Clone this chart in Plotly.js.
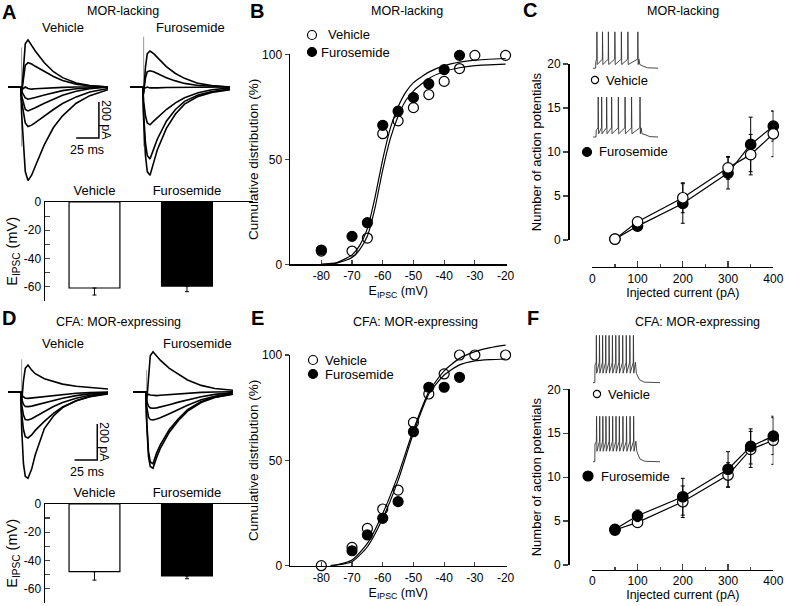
<!DOCTYPE html>
<html>
<head>
<meta charset="utf-8">
<script src="https://cdn.plot.ly/plotly-3.0.1.min.js"></script>
<style>
    body { margin: 0; background: #fff; }
    #chart { width: 785px; height: 606px; }
</style>
</head>
<body>
<div id="chart"></div>
<script>
// ---------- data ----------

// IPSC traces (pA) sampled at these times (ms)
const ipscTime = [0, 14, 15, 17, 19, 22, 26, 30, 40, 50, 60, 75, 90, 110];

const aVehTraces = [
    [0, 0, -40, 120, 240, 262, 230, 200, 135, 85, 52, 22, 8, 0],
    [0, 0, -30, 60, 120, 135, 128, 115, 85, 58, 36, 16, 6, 0],
    [0, 0, -15, -5, 0, -8, -12, -10, -6, -4, -2, 0, 0, 0],
    [0, 0, -25, -45, -60, -68, -64, -58, -45, -32, -20, -10, -4, 0],
    [0, 0, -50, -95, -125, -133, -126, -115, -90, -66, -46, -24, -10, 0],
    [0, 0, -80, -150, -200, -220, -212, -198, -160, -125, -92, -55, -28, -8],
    [0, 0, -150, -330, -470, -520, -490, -440, -320, -225, -160, -90, -48, -15]
];
const aFurTraces = [
    [0, 0, -40, 110, 185, 200, 185, 165, 113, 75, 48, 20, 8, 0],
    [0, 0, -30, 50, 85, 90, 85, 75, 52, 34, 20, 8, 3, 0],
    [0, 0, -10, -5, 0, -5, -6, -5, -3, -2, -1, 0, 0, 0],
    [0, 0, -80, -160, -200, -210, -190, -170, -125, -88, -60, -32, -15, -5],
    [0, 0, -150, -310, -380, -400, -345, -290, -190, -125, -80, -44, -25, -12],
    [0, 0, -180, -380, -470, -490, -420, -350, -230, -150, -95, -52, -30, -15]
];
const dVehTraces = [
    [0, 0, -60, 60, 130, 148, 120, 100, 72, 55, 42, 30, 22, 15],
    [0, 0, -20, -30, -36, -37, -35, -32, -26, -20, -15, -9, -5, -2],
    [0, 0, -40, -70, -82, -83, -80, -75, -62, -48, -36, -22, -12, -5],
    [0, 0, -70, -130, -155, -157, -150, -138, -110, -82, -60, -36, -20, -8],
    [0, 0, -120, -210, -250, -257, -240, -215, -165, -120, -85, -50, -27, -10],
    [0, 0, -200, -400, -470, -481, -430, -350, -205, -135, -88, -50, -28, -12]
];
const dFurTraces = [
    [0, 0, -60, 100, 200, 222, 200, 175, 130, 95, 65, 35, 18, 8],
    [0, 0, -20, -15, -18, -20, -22, -20, -16, -12, -8, -4, -2, 0],
    [0, 0, -50, -80, -90, -92, -90, -86, -72, -58, -45, -28, -15, -5],
    [0, 0, -80, -140, -155, -157, -152, -145, -122, -98, -75, -45, -25, -8],
    [0, 0, -150, -330, -390, -400, -340, -295, -210, -150, -100, -55, -30, -12],
    [0, 0, -170, -360, -415, -425, -365, -315, -225, -160, -108, -60, -32, -14]
];
// stimulus artifact extent (pA) for each trace group
const stimTime = [15, 15];
const aVehArtifact = [220, -330];
const aFurArtifact = [280, -330];
const dVehArtifact = [180, -250];
const dFurArtifact = [120, -175];
const scaleBarSize = [25, 200]; // ms, pA

// E_IPSC bar charts (mV)
const barGroups = ['Vehicle', 'Furosemide'];
const aBarMean = [-61, -59.6];
const aBarErr = [5, 4];
const dBarMean = [-48, -51];
const dBarErr = [6, 2];

// cumulative distributions (%)
const bVehX = [-80, -70, -65, -60, -55, -50, -45, -40, -35, -30, -20];
const bVehY = [6.3, 6.3, 12.5, 62.2, 68.3, 74.6, 80.8, 87.1, 93.2, 99.5, 99.5];
const bFurX = [-80, -70, -65, -60, -55, -50, -45, -40, -35];
const bFurY = [6.8, 13.3, 19.8, 66.2, 72.9, 79.4, 86, 92.7, 99.5];
const bFitX = [-80, -75, -70, -67.5, -65, -62.5, -60, -57.5, -55, -52.5, -50, -45, -40, -35, -30, -20];
const bFitVeh = [0, 0.5, 3.2, 7, 13.5, 27, 45, 60, 70.5, 78, 82.5, 88.5, 91.8, 93.6, 94.6, 95.3];
const bFitFur = [0, 0.8, 4.5, 9, 17, 32, 50, 65, 75, 82, 86.5, 91.5, 94.6, 96.3, 97.2, 98];

const eVehX = [-80, -70, -65, -60, -55, -50, -45, -40, -35, -30, -20];
const eVehY = [0, 8.7, 17.7, 26.9, 35.9, 68, 81.5, 91, 100, 100, 100];
const eFurX = [-80, -70, -65, -60, -55, -50, -45, -40, -35];
const eFurY = [-0.5, 7.1, 14.6, 22.5, 30.4, 63.6, 84.7, 84.7, 89.4];
const eFitX = [-77, -75, -70, -65, -60, -55, -50, -45, -40, -35, -30, -25, -20];
const eFitVeh = [0, 0.4, 2.7, 10.6, 24.8, 43, 64.5, 82.5, 92.5, 98.4, 101.6, 103.5, 104.7];
const eFitFur = [0, 0.3, 1.9, 9, 22.5, 40.5, 63, 81.5, 90.5, 95.3, 97.2, 97.8, 98.1];

// action potential counts
const currents = [50, 100, 200, 300, 350, 400];
const cVehMean = [0.1, 2.07, 4.8, 8.2, 9.7, 12.07];
const cVehErr = [0.2, 0.4, 1.7, 1.3, 2.3, 2.6];
const cFurMean = [0.1, 1.58, 4.15, 7.6, 10.86, 12.93];
const cFurErr = [0.2, 0.4, 2.25, 1.8, 3.1, 1.7];
const fVehMean = [3.98, 4.85, 7.2, 10.24, 13.16, 14.2];
const fVehErr = [0.3, 0.5, 1.8, 1.4, 2.05, 2.74];
const fFurMean = [4.06, 5.6, 7.77, 10.9, 13.5, 14.67];
const fFurErr = [0.3, 0.66, 2.1, 2.0, 2.0, 2.1];

// example firing: spike times (ms) and [rest, trough, pre-spike, peak] (mV)
const cVehSpikes = [18, 44, 71, 101, 131, 161, 207];
const cFurSpikes = [24, 40, 63, 86, 117, 148, 178, 217];
const fVehSpikes = [15, 29, 43, 57, 72, 87, 102, 117, 133, 149, 165, 181];
const fFurSpikes = [16, 30, 44, 58, 73, 88, 103, 118, 134, 150, 166, 182];
const cVehLevels = [-65, -55, -40, 35];
const cFurLevels = [-65, -57, -42, 35];
const fVehLevels = [-65, -45, -22, 35];
const fFurLevels = [-65, -42, -20, 35];

// ---------- helpers ----------
const W = 785, H = 606;
const px = v => v / W;
const py = v => 1 - v / H;
const dx = (a, b) => [px(a), px(b)];
const dy = (top, bottom) => [py(bottom), py(top)];

function hid(domain, range, anchor) {
    return { domain, range, anchor, visible: false, fixedrange: true };
}

function label(text, x, y, size, extra) {
    return Object.assign({
        text, x: px(x), y: py(y), xref: 'paper', yref: 'paper', showarrow: false,
        xanchor: 'center', yanchor: 'middle', font: { size: size || 12.5, color: '#000' }
    }, extra || {});
}

function dot(x, y, r, filled) {
    return {
        type: 'circle', xref: 'paper', yref: 'paper', xsizemode: 'pixel', ysizemode: 'pixel',
        xanchor: px(x), yanchor: py(y), x0: -r, x1: r, y0: -r, y1: r,
        fillcolor: filled ? '#000' : '#fff', line: { color: '#000', width: 1.2 }
    };
}

function apPoints(spikes, lv, on, off, end) {
    const [rest, trough, pre, peak] = lv;
    const t = [0, on, on + 1], v = [rest, rest, pre - 6];
    spikes.forEach(s => {
        t.push(s - 0.8, s, s + 1.6);
        v.push(pre, peak, trough);
    });
    t.push(off, off + 4, off + 18, off + 40, end);
    v.push(pre, trough, rest + 6, rest + 1, rest);
    return { t, v };
}

const traces = [];

function addIpsc(list, artifact, xa, ya) {
    traces.push({
        x: stimTime, y: artifact, xaxis: xa, yaxis: ya, mode: 'lines',
        line: { color: '#9a9a9a', width: 1 }, hoverinfo: 'skip'
    });
    list.forEach(vals => traces.push({
        x: ipscTime, y: vals, xaxis: xa, yaxis: ya, mode: 'lines',
        line: { color: '#000', width: 1.6 }, hoverinfo: 'skip'
    }));
}

function addBars(means, errs, xa, ya) {
    traces.push({
        type: 'bar', x: barGroups, y: means, xaxis: xa, yaxis: ya, width: 0.55,
        marker: { color: ['#fff', '#000'], line: { color: '#000', width: 1.2 } },
        error_y: { type: 'data', symmetric: false, array: [0, 0], arrayminus: errs,
            color: '#000', thickness: 1, width: 2 }
    });
}

function addCumulative(vx, vy, fx, fy, fitX, fitV, fitF, xa, ya, fxa, fya) {
    [fitV, fitF].forEach(f => traces.push({
        x: fitX, y: f, xaxis: fxa, yaxis: fya, mode: 'lines',
        line: { color: '#000', width: 1.2, shape: 'spline', smoothing: 0.6 }, hoverinfo: 'skip'
    }));
    traces.push({
        x: vx, y: vy, xaxis: xa, yaxis: ya, mode: 'markers', cliponaxis: false, name: 'Vehicle',
        marker: { size: 10, color: '#fff', line: { color: '#000', width: 1.2 } }
    });
    traces.push({
        x: fx, y: fy, xaxis: xa, yaxis: ya, mode: 'markers', cliponaxis: false, name: 'Furosemide',
        marker: { size: 10, color: '#000', line: { color: '#000', width: 1.2 } }
    });
}

function apSeries(mean, err, filled, name, xa, ya) {
    return {
        x: currents, y: mean, xaxis: xa, yaxis: ya, mode: 'lines+markers', cliponaxis: false, name,
        line: { color: '#000', width: 1.2 },
        marker: { size: 10.5, color: filled ? '#000' : '#fff', line: { color: '#000', width: 1.2 } },
        error_y: { type: 'data', array: err, color: '#000', thickness: 1, width: 2 }
    };
}

function addInset(spikes, lv, on, off, xa, ya) {
    const p = apPoints(spikes, lv, on, off, 300);
    traces.push({
        x: p.t, y: p.v, xaxis: xa, yaxis: ya, mode: 'lines',
        line: { color: '#333', width: 0.9 }, hoverinfo: 'skip'
    });
}

// ---------- traces ----------
addIpsc(aVehTraces, aVehArtifact, 'x', 'y');
addIpsc(aFurTraces, aFurArtifact, 'x2', 'y2');
addBars(aBarMean, aBarErr, 'x3', 'y3');
addCumulative(bVehX, bVehY, bFurX, bFurY, bFitX, bFitVeh, bFitFur, 'x4', 'y4', 'x16', 'y16');
traces.push(apSeries(cFurMean, cFurErr, true, 'Furosemide', 'x5', 'y5'));
traces.push(apSeries(cVehMean, cVehErr, false, 'Vehicle', 'x5', 'y5'));
addInset(cVehSpikes, cVehLevels, 12, 212, 'x6', 'y6');
addInset(cFurSpikes, cFurLevels, 14, 222, 'x7', 'y7');

addIpsc(dVehTraces, dVehArtifact, 'x8', 'y8');
addIpsc(dFurTraces, dFurArtifact, 'x9', 'y9');
addBars(dBarMean, dBarErr, 'x10', 'y10');
addCumulative(eVehX, eVehY, eFurX, eFurY, eFitX, eFitVeh, eFitFur, 'x11', 'y11', 'x15', 'y15');
traces.push(apSeries(fVehMean, fVehErr, false, 'Vehicle', 'x12', 'y12'));
traces.push(apSeries(fFurMean, fFurErr, true, 'Furosemide', 'x12', 'y12'));
addInset(fVehSpikes, fVehLevels, 8, 190, 'x13', 'y13');
addInset(fFurSpikes, fFurLevels, 8, 192, 'x14', 'y14');

// ---------- axes ----------
const axLine = { showline: true, linecolor: '#000', linewidth: 1.5, showgrid: false, zeroline: false, fixedrange: true };
const tickFont = { size: 12, color: '#000' };

function barAxes(top, bottom, xa, ya) {
    const vals = [0, -20, -40, -60];
    return [
        Object.assign({}, axLine, {
            domain: dx(45, 253), range: [-0.535, 1.714], anchor: ya, side: 'top', type: 'category',
            ticks: '', tickfont: { size: 13, color: '#000' }
        }),
        Object.assign({}, axLine, {
            domain: dy(top, bottom), range: [-70, 0], anchor: xa,
            ticks: 'inside', ticklen: 5, tickwidth: 1.2, tickvals: vals, ticktext: vals.map(String),
            minor: { tickvals: [-10, -30, -50, -70], ticks: 'inside', ticklen: 5, tickwidth: 1.2 },
            tickfont: tickFont,
            title: { text: 'E<sub>IPSC</sub> (mV)', font: { size: 14.5 }, standoff: 2 }
        })
    ];
}

function cumAxes(top, bottom, xa, ya) {
    const vals = [-80, -70, -60, -50, -40, -30, -20];
    return [
        Object.assign({}, axLine, {
            domain: dx(290, 506.5), range: [-90.2, -19.7], anchor: ya,
            ticks: 'inside', ticklen: 4, tickwidth: 1.2, tickvals: vals, ticktext: vals.map(String),
            tickfont: tickFont,
            title: { text: 'E<sub>IPSC</sub> (mV)', font: { size: 12.5 }, standoff: 4 }
        }),
        Object.assign({}, axLine, {
            domain: dy(top, bottom), range: [0, 100], anchor: xa,
            ticks: 'outside', ticklen: 4, tickwidth: 1.2, tickvals: [0, 50, 100],
            tickfont: tickFont,
            title: { text: 'Cumulative distribution (%)', font: { size: 13.5 }, standoff: 0 }
        })
    ];
}

function apAxes(yTop, yBottom, xLinePos) {
    return [
        Object.assign({}, axLine, {
            domain: dx(592.3, 773.3), range: [0, 400], anchor: 'free', position: py(xLinePos),
            ticks: 'inside', ticklen: 6, tickwidth: 1.2, dtick: 100,
            minor: { dtick: 50, ticks: 'inside', ticklen: 3, tickwidth: 1.2 },
            tickfont: tickFont,
            title: { text: 'Injected current (pA)', font: { size: 12.5 }, standoff: 3 }
        }),
        Object.assign({}, axLine, {
            domain: dy(yTop, yBottom), range: [0, 20], anchor: 'free', position: px(568),
            ticks: 'outside', ticklen: 5, tickwidth: 1.2, dtick: 5,
            tickfont: tickFont,
            title: { text: 'Number of action potentials', font: { size: 13 }, standoff: 1 }
        })
    ];
}

const [x3, y3] = barAxes(202, 300.7, 'x3', 'y3');
const [x10, y10] = barAxes(504, 602.7, 'x10', 'y10');
const [x4, y4] = cumAxes(54.3, 264.3, 'x4', 'y4');
const [x11, y11] = cumAxes(355, 565.7, 'x11', 'y11');
const [x5, y5] = apAxes(64, 240, 266.7);
const [x12, y12] = apAxes(389.3, 565, 569.5);

// ---------- text ----------
const annotations = [
    label('<b>A</b>', 9, 12, 20), label('<b>B</b>', 257, 11, 20), label('<b>C</b>', 530, 10, 20),
    label('<b>D</b>', 9, 318, 20), label('<b>E</b>', 257, 318, 20), label('<b>F</b>', 533, 318, 20),
    label('MOR-lacking', 123, 11, 12.5), label('MOR-lacking', 407, 11, 12.5), label('MOR-lacking', 683, 11, 12.5),
    label('CFA: MOR-expressing', 118, 322, 12.5), label('CFA: MOR-expressing', 415, 322, 12.5),
    label('CFA: MOR-expressing', 697, 322, 12.5),
    label('Vehicle', 63, 27, 13), label('Furosemide', 190, 27, 13),
    label('Vehicle', 63, 343, 13), label('Furosemide', 197, 343, 13),
    label('200 pA', 106, 120, 12.5, { textangle: 90 }), label('25 ms', 87, 150, 12.5),
    label('200 pA', 104, 442, 12.5, { textangle: 90 }), label('25 ms', 87, 472, 12.5),
    label('Vehicle', 326, 35, 13, { xanchor: 'left' }), label('Furosemide', 319, 52, 13, { xanchor: 'left' }),
    label('Vehicle', 323, 360, 13, { xanchor: 'left' }), label('Furosemide', 323, 374, 13, { xanchor: 'left' }),
    label('Vehicle', 604, 80, 13, { xanchor: 'left' }), label('Furosemide', 597, 152, 13, { xanchor: 'left' }),
    label('Vehicle', 606, 394, 13, { xanchor: 'left' }), label('Furosemide', 599, 476, 13, { xanchor: 'left' })
];

// scale bars (drawn in the trace axes' own units)
function scaleBar(xa, ya, tEnd, pBase) {
    return {
        type: 'path', xref: xa, yref: ya, line: { color: '#000', width: 1.5 },
        path: `M ${tEnd - scaleBarSize[0]} ${pBase} L ${tEnd} ${pBase} L ${tEnd} ${pBase + scaleBarSize[1]}`
    };
}

const shapes = [
    scaleBar('x', 'y', 100, -283), scaleBar('x8', 'y8', 98.2, -379.5),
    dot(312, 35, 4.5, false), dot(312, 52, 4.5, true),
    dot(313, 360, 4.5, false), dot(313, 374, 4.5, true),
    dot(595, 80, 3.6, false), dot(587, 152, 4.5, true),
    dot(597, 394, 3.6, false), dot(588, 476, 5, true)
];

const layout = {
    width: W, height: H, margin: { l: 0, r: 0, t: 0, b: 0 },
    paper_bgcolor: '#fff', plot_bgcolor: 'rgba(0,0,0,0)', showlegend: false,
    font: { family: 'Liberation Sans, Arial, Helvetica, sans-serif', size: 12.5, color: '#000' },
    xaxis: hid(dx(8, 108), [0, 110], 'y'), yaxis: hid(dy(30, 200), [-627.8, 316.7], 'x'),
    xaxis2: hid(dx(130, 233), [0, 113.3], 'y2'), yaxis2: hid(dy(30, 200), [-627.8, 316.7], 'x2'),
    xaxis3: x3, yaxis3: y3,
    xaxis4: x4, yaxis4: y4,
    xaxis5: x5, yaxis5: y5,
    xaxis6: hid(dx(593, 658), [0, 300], 'y6'), yaxis6: hid(dy(30, 70), [-70, 40], 'x6'),
    xaxis7: hid(dx(593, 658), [0, 300], 'y7'), yaxis7: hid(dy(95, 139), [-70, 40], 'x7'),
    xaxis8: hid(dx(8, 108), [0, 110], 'y8'), yaxis8: hid(dy(330, 500), [-601.7, 342.8], 'x8'),
    xaxis9: hid(dx(133, 237), [0, 114.4], 'y9'), yaxis9: hid(dy(330, 500), [-601.7, 342.8], 'x9'),
    xaxis10: x10, yaxis10: y10,
    xaxis11: x11, yaxis11: y11,
    xaxis12: x12, yaxis12: y12,
    xaxis13: hid(dx(593, 660), [0, 300], 'y13'), yaxis13: hid(dy(333, 385), [-70, 40], 'x13'),
    xaxis14: hid(dx(593, 660), [0, 300], 'y14'), yaxis14: hid(dy(414, 464), [-70, 40], 'x14'),
    xaxis15: hid(dx(290, 506.5), [-90.2, -19.7], 'y15'), yaxis15: hid(dy(355 - 21.07, 565.7), [0, 110], 'x15'),
    xaxis16: hid(dx(290, 506.5), [-90.2, -19.7], 'y16'), yaxis16: hid(dy(54.3 - 21, 264.3), [0, 110], 'x16'),
    annotations, shapes
};

Plotly.newPlot('chart', traces, layout, { staticPlot: true, displayModeBar: false });
</script>
</body>
</html>
